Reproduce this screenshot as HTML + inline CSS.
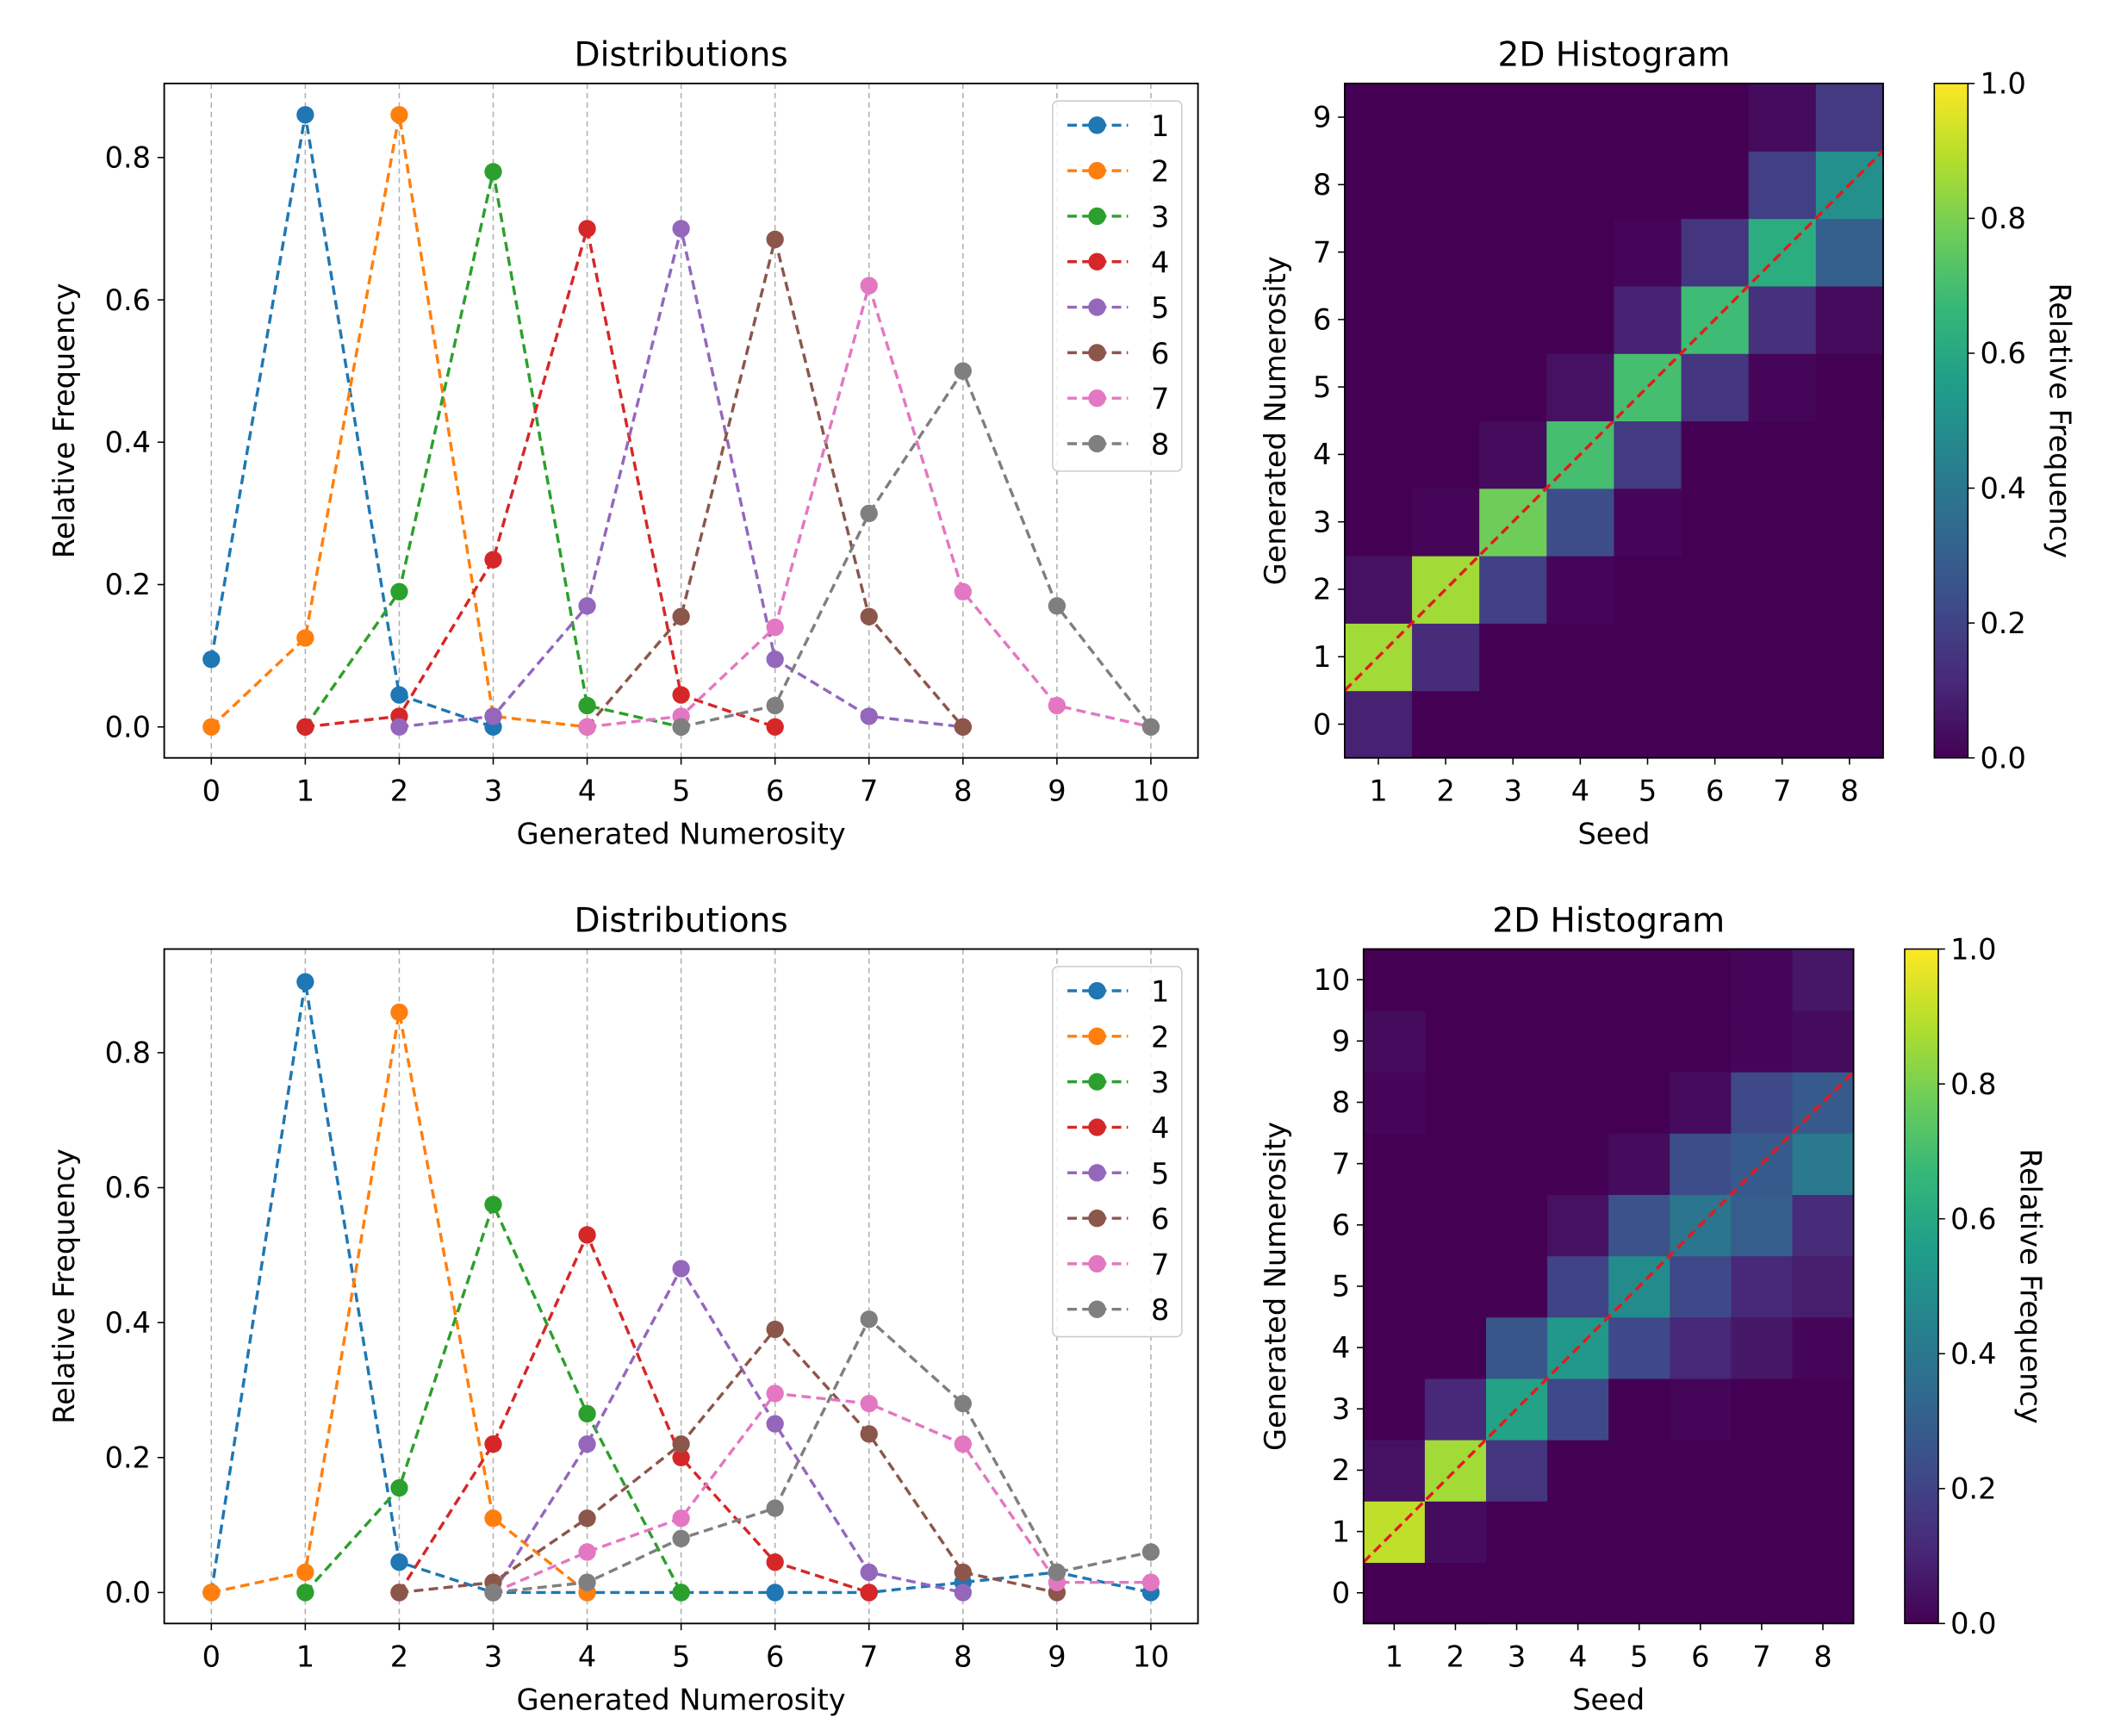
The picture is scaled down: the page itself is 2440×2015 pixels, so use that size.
<!DOCTYPE html>
<html><head><meta charset="utf-8">
<style>
html,body{margin:0;padding:0;background:#fff;}
svg{display:block;font-family:"DejaVu Sans","Liberation Sans",sans-serif;}
</style></head>
<body>
<svg id="fig" width="2440" height="2015" viewBox="0 0 1561.6 1289.6" xmlns="http://www.w3.org/2000/svg"></svg>
<script>
// ---- data ----
const xTicks = [0,1,2,3,4,5,6,7,8,9,10];
const seeds = [1,2,3,4,5,6,7,8];
const topS1 = [[0,0.095],[1,0.86],[2,0.045],[3,0.0]];
const topS2 = [[0,0],[1,0.125],[2,0.86],[3,0.015],[4,0.0]];
const topS3 = [[1,0],[2,0.19],[3,0.78],[4,0.03],[5,0.0]];
const topS4 = [[1,0],[2,0.015],[3,0.235],[4,0.70],[5,0.045],[6,0.0]];
const topS5 = [[2,0],[3,0.015],[4,0.17],[5,0.70],[6,0.095],[7,0.015],[8,0.0]];
const topS6 = [[4,0],[5,0.155],[6,0.685],[7,0.155],[8,0.0]];
const topS7 = [[4,0],[5,0.015],[6,0.14],[7,0.62],[8,0.19],[9,0.03],[10,0]];
const topS8 = [[5,0],[6,0.03],[7,0.30],[8,0.50],[9,0.17],[10,0]];
const botS1 = [[0,0],[1,0.905],[2,0.045],[3,0],[4,0],[5,0],[6,0],[7,0],[8,0.015],[9,0.03],[10,0]];
const botS2 = [[0,0],[1,0.03],[2,0.86],[3,0.11],[4,0]];
const botS3 = [[1,0],[2,0.155],[3,0.575],[4,0.265],[5,0]];
const botS4 = [[2,0],[3,0.22],[4,0.53],[5,0.20],[6,0.045],[7,0]];
const botS5 = [[3,0],[4,0.22],[5,0.48],[6,0.25],[7,0.03],[8,0]];
const botS6 = [[2,0],[3,0.015],[4,0.11],[5,0.22],[6,0.39],[7,0.235],[8,0.03],[9,0]];
const botS7 = [[3,0],[4,0.06],[5,0.11],[6,0.295],[7,0.28],[8,0.22],[9,0.015],[10,0.015]];
const botS8 = [[3,0],[4,0.015],[5,0.08],[6,0.125],[7,0.405],[8,0.28],[9,0.03],[10,0.06]];
const yTicksLine = [0,0.2,0.4,0.6,0.8];
const cbTicks = [0,0.2,0.4,0.6,0.8,1.0];
const colors = ['#1f77b4','#ff7f0e','#2ca02c','#d62728','#9467bd','#8c564b','#e377c2','#7f7f7f'];

const NS='http://www.w3.org/2000/svg';
const svg=document.getElementById('fig');
const FS=21.5, FT=25;
function el(tag,attrs,parent,text){const e=document.createElementNS(NS,tag);for(const k in attrs)e.setAttribute(k,attrs[k]);if(text!==undefined)e.textContent=text;(parent||svg).appendChild(e);return e;}
const VIR=[[68,1,84],[72,40,120],[62,74,137],[49,104,142],[38,130,142],[31,158,137],[53,183,121],[109,205,89],[180,222,44],[253,231,37]];
function viridis(t){t=Math.max(0,Math.min(1,t));const p=t*(VIR.length-1);const i=Math.min(Math.floor(p),VIR.length-2);const f=p-i;const c=VIR[i].map((v,k)=>Math.round(v+(VIR[i+1][k]-v)*f));return `rgb(${c[0]},${c[1]},${c[2]})`;}

function linePanel(series,ax,name){
  const g=el('g',{},svg);
  const X=v=>ax.x0+ax.x0off+v*ax.dx, Y=v=>ax.y0v-v*ax.dy;
  xTicks.forEach(t=>{const gl=el('line',{x1:X(t),x2:X(t),y1:ax.top,y2:ax.bot,stroke:'#b0b0b0','stroke-width':1,'stroke-dasharray':'4,3'},g);
    el('line',{x1:X(t),x2:X(t),y1:ax.bot,y2:ax.bot+5,stroke:'#000','stroke-width':1},g);
    const tl=el('text',{x:X(t),y:ax.bot+32,'font-size':FS,'text-anchor':'middle'},g,String(t));});
  yTicksLine.forEach(t=>{el('line',{x1:ax.x0-5,x2:ax.x0,y1:Y(t),y2:Y(t),stroke:'#000'},g);
    const tl=el('text',{x:ax.x0-10,y:Y(t)+7.5,'font-size':FS,'text-anchor':'end'},g,t.toFixed(1));});
  series.forEach((s,i)=>{const sg=el('g',{},g);
    el('polyline',{points:s.map(p=>X(p[0])+','+Y(p[1])).join(' '),fill:'none',stroke:colors[i],'stroke-width':2.2,'stroke-dasharray':'7,4'},sg);
    s.forEach(p=>{const c=el('circle',{cx:X(p[0]),cy:Y(p[1]),r:6.5,fill:colors[i]},sg);});});
  el('rect',{x:ax.x0,y:ax.top,width:ax.x1-ax.x0,height:ax.bot-ax.top,fill:'none',stroke:'#000','stroke-width':1.2},g);
  const t=el('text',{x:(ax.x0+ax.x1)/2,y:ax.top-13,'font-size':FT,'text-anchor':'middle'},g,'Distributions');
  const xl=el('text',{x:(ax.x0+ax.x1)/2,y:ax.bot+64,'font-size':FS,'text-anchor':'middle'},g,'Generated Numerosity');
  const cy=(ax.top+ax.bot)/2;const yl=el('text',{x:55,y:cy,'font-size':FS,'text-anchor':'middle',transform:`rotate(-90 55 ${cy})`},g,'Relative Frequency');
  const lg=el('g',{},g);
  el('rect',{x:782,y:ax.top+13,width:96,height:275,rx:4,fill:'#fff','fill-opacity':0.85,stroke:'#ccc'},lg);
  series.forEach((s,i)=>{const yy=ax.top+31+i*33.8;const e=el('g',{},lg);
    el('line',{x1:793,x2:838,y1:yy,y2:yy,stroke:colors[i],'stroke-width':2.2,'stroke-dasharray':'7,4'},e);
    el('circle',{cx:815,cy:yy,r:6.5,fill:colors[i]},e);
    el('text',{x:855,y:yy+8,'font-size':FS},e,String(i+1));});
}
linePanel([topS1,topS2,topS3,topS4,topS5,topS6,topS7,topS8],{x0:122,x1:890,x0off:35,dx:69.8,top:62,bot:563,y0v:540,dy:528.75},'distributions-top');
linePanel([botS1,botS2,botS3,botS4,botS5,botS6,botS7,botS8],{x0:122,x1:890,x0off:35,dx:69.8,top:705,bot:1206,y0v:1183,dy:501.25},'distributions-bottom');

function heatPanel(series,h,name){
  const g=el('g',{},svg);
  const cw=(h.x1-h.x0)/seeds.length, rh=(h.bot-h.top)/h.nrows;
  el('rect',{x:h.x0,y:h.top,width:h.x1-h.x0,height:h.bot-h.top,fill:viridis(0)},g);
  series.forEach((s,i)=>{s.forEach(p=>{if(p[0]>=h.nrows)return;const c=el('rect',{x:h.x0+i*cw,y:h.bot-(p[0]+1)*rh,width:cw+0.5,height:rh+0.5,fill:viridis(p[1])},g);});});
  const d=el('line',{x1:h.x0,y1:h.bot-1*rh,x2:h.x1,y2:h.bot-9*rh,stroke:'#e41a1c','stroke-width':2.2,'stroke-dasharray':'7,4'},g);
  el('rect',{x:h.x0,y:h.top,width:h.x1-h.x0,height:h.bot-h.top,fill:'none',stroke:'#000','stroke-width':1.2},g);
  seeds.forEach((s,i)=>{const x=h.x0+(i+0.5)*cw;el('line',{x1:x,x2:x,y1:h.bot,y2:h.bot+5,stroke:'#000'},g);const t=el('text',{x:x,y:h.bot+32,'font-size':FS,'text-anchor':'middle'},g,String(s));});
  for(let n=0;n<h.nrows;n++){const y=h.bot-(n+0.5)*rh;el('line',{x1:h.x0-5,x2:h.x0,y1:y,y2:y,stroke:'#000'},g);const t=el('text',{x:h.x0-10,y:y+7.5,'font-size':FS,'text-anchor':'end'},g,String(n));}
  const t=el('text',{x:(h.x0+h.x1)/2,y:h.top-13,'font-size':FT,'text-anchor':'middle'},g,'2D Histogram');
  const xl=el('text',{x:(h.x0+h.x1)/2,y:h.bot+64,'font-size':FS,'text-anchor':'middle'},g,'Seed');
  const cy=(h.top+h.bot)/2;const yl=el('text',{x:955,y:cy,'font-size':FS,'text-anchor':'middle',transform:`rotate(-90 955 ${cy})`},g,'Generated Numerosity');
  const cb=el('g',{},g);
  const gid='grad'+name;const defs=el('defs',{},cb);const lgd=el('linearGradient',{id:gid,x1:0,y1:1,x2:0,y2:0},defs);
  VIR.forEach((c,i)=>el('stop',{offset:i/(VIR.length-1),'stop-color':`rgb(${c})`},lgd));
  el('rect',{x:h.cb,y:h.top,width:25,height:h.bot-h.top,fill:`url(#${gid})`,stroke:'#000','stroke-width':1},cb);
  cbTicks.forEach(v=>{const y=h.bot-v*(h.bot-h.top);el('line',{x1:h.cb+25,x2:h.cb+30,y1:y,y2:y,stroke:'#000'},cb);const t=el('text',{x:h.cb+34,y:y+7.5,'font-size':FS},cb,v.toFixed(1));});
  const lx=h.cb+86;const cl=el('text',{x:lx,y:cy,'font-size':FS,'text-anchor':'middle',transform:`rotate(90 ${lx} ${cy})`},cb,'Relative Frequency');
}
heatPanel([topS1,topS2,topS3,topS4,topS5,topS6,topS7,topS8],{x0:999,x1:1399,top:62,bot:563,nrows:10,cb:1437},'heatmap-top');
heatPanel([botS1,botS2,botS3,botS4,botS5,botS6,botS7,botS8],{x0:1013,x1:1377,top:705,bot:1206,nrows:11,cb:1415},'heatmap-bottom');
</script>
</body></html>
